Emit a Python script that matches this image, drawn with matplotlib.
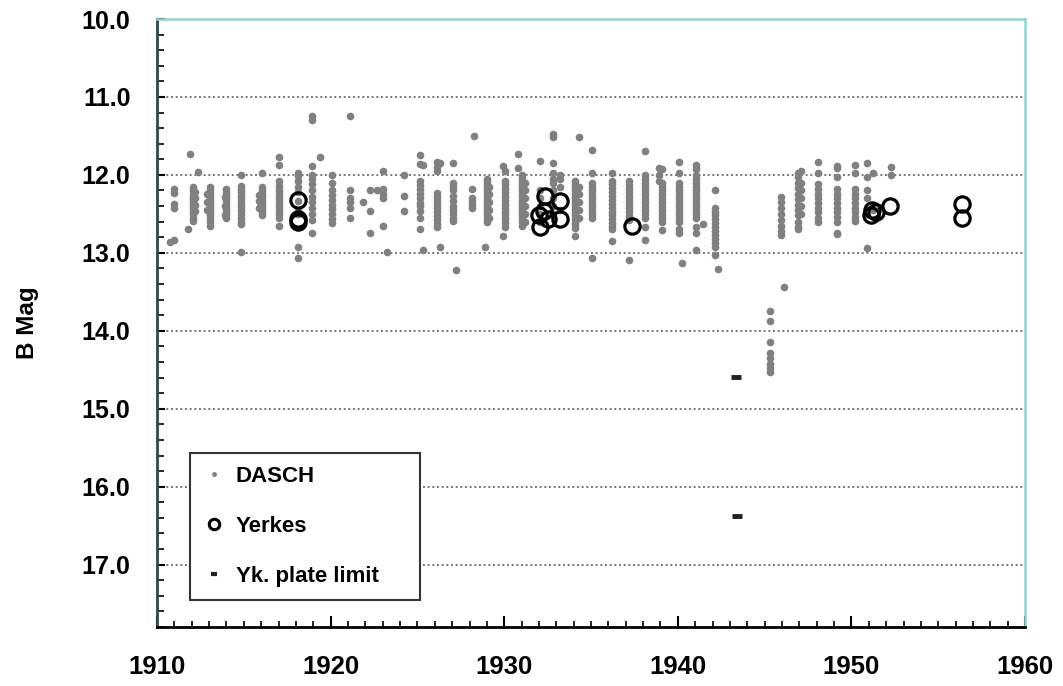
import matplotlib
matplotlib.use("Agg")
import matplotlib.pyplot as plt
import matplotlib.ticker as ticker
from matplotlib.lines import Line2D

# ── Data ─────────────────────────────────────────────────────────
# DASCH: one entry per plate season / sub-column, (year, [B mags])
dasch_cols = [
    (1910.75, [12.86]),
    (1911.0, [12.84, 12.18, 12.23, 12.37, 12.42]),
    (1911.8, [12.70]),
    (1911.9, [11.73]),
    (1912.05, [12.16, 12.20, 12.24, 12.28, 12.31, 12.34, 12.37, 12.40, 12.43, 12.47, 12.50, 12.55, 12.59]),
    (1912.2, [12.22, 12.30, 12.38, 12.46]),
    (1912.35, [11.96]),
    (1912.9, [12.25, 12.35, 12.45]),
    (1913.05, [12.16, 12.20, 12.24, 12.28, 12.32, 12.36, 12.40, 12.44, 12.48, 12.52, 12.56, 12.60, 12.65]),
    (1913.9, [12.28, 12.40, 12.52]),
    (1914.0, [12.18, 12.22, 12.26, 12.30, 12.34, 12.38, 12.42, 12.46, 12.50, 12.55]),
    (1914.85, [12.00, 12.14, 12.18, 12.22, 12.27, 12.31, 12.36, 12.40, 12.45, 12.50, 12.55, 12.60, 12.63, 12.99]),
    (1915.9, [12.26, 12.34, 12.42]),
    (1916.05, [11.98, 12.16, 12.20, 12.24, 12.28, 12.32, 12.36, 12.40, 12.44, 12.48, 12.52]),
    (1917.0, [11.77, 11.87, 12.08, 12.14, 12.20, 12.25, 12.30, 12.35, 12.40, 12.45, 12.50, 12.55, 12.65]),
    (1918.1, [11.98, 12.02, 12.08, 12.15, 12.22, 12.33, 12.45, 12.50, 12.92, 13.07]),
    (1918.95, [11.25, 11.30, 11.89, 12.00, 12.05, 12.12, 12.20, 12.28, 12.35, 12.42, 12.50, 12.58, 12.74]),
    (1919.4, [11.77]),
    (1920.1, [12.00, 12.10, 12.20, 12.26, 12.32, 12.38, 12.44, 12.50, 12.56, 12.62]),
    (1921.1, [11.24, 12.20, 12.29, 12.35, 12.42, 12.55]),
    (1921.85, [12.35]),
    (1922.27, [12.20, 12.46, 12.74]),
    (1922.7, [12.20]),
    (1923.02, [11.95, 12.18, 12.25, 12.29, 12.65]),
    (1923.25, [12.99]),
    (1924.2, [12.00, 12.27, 12.46]),
    (1925.15, [11.74, 11.86, 12.08, 12.13, 12.18, 12.25, 12.30, 12.36, 12.40, 12.46, 12.55, 12.69]),
    (1925.32, [11.87, 12.96]),
    (1926.13, [11.84, 11.90, 11.95, 12.23, 12.28, 12.33, 12.38, 12.43, 12.48, 12.53, 12.58, 12.63, 12.67]),
    (1926.3, [11.85, 12.92]),
    (1927.05, [11.85, 12.10, 12.15, 12.20, 12.27, 12.33, 12.40, 12.45, 12.50, 12.55, 12.59]),
    (1927.22, [13.22]),
    (1928.15, [12.18, 12.29, 12.34, 12.38, 12.42]),
    (1928.26, [11.50]),
    (1928.9, [12.92]),
    (1929.0, [12.05, 12.08, 12.12, 12.16, 12.20, 12.24, 12.28, 12.32, 12.36, 12.40, 12.44, 12.48, 12.52, 12.56, 12.60]),
    (1929.15, [12.15, 12.25, 12.35, 12.45, 12.55]),
    (1929.95, [11.88, 12.78]),
    (1930.05, [11.95, 12.08, 12.12, 12.17, 12.22, 12.27, 12.32, 12.37, 12.42, 12.47, 12.52, 12.57, 12.62, 12.67]),
    (1930.8, [11.91, 11.73]),
    (1931.03, [12.00, 12.04, 12.08, 12.12, 12.16, 12.20, 12.24, 12.28, 12.32, 12.36, 12.40, 12.44, 12.48, 12.52, 12.56, 12.60, 12.65]),
    (1931.2, [12.10, 12.20, 12.30, 12.40, 12.50, 12.60]),
    (1932.06, [11.82, 12.20, 12.30, 12.40, 12.50, 12.60]),
    (1932.8, [11.47, 11.52, 11.85, 11.97, 12.05, 12.10, 12.20, 12.30, 12.40, 12.50]),
    (1933.2, [12.00, 12.05, 12.15, 12.45]),
    (1934.08, [12.08, 12.12, 12.16, 12.20, 12.24, 12.28, 12.32, 12.36, 12.40, 12.44, 12.48, 12.52, 12.56, 12.60, 12.64, 12.68, 12.79]),
    (1934.3, [11.51, 12.15, 12.25, 12.35, 12.45, 12.55]),
    (1935.08, [11.68, 11.98, 12.10, 12.15, 12.20, 12.25, 12.30, 12.35, 12.40, 12.45, 12.50, 12.55, 13.07]),
    (1936.2, [11.98, 12.08, 12.12, 12.17, 12.22, 12.27, 12.32, 12.37, 12.42, 12.47, 12.52, 12.57, 12.62, 12.66, 12.69, 12.85]),
    (1937.2, [12.08, 12.13, 12.18, 12.23, 12.28, 12.33, 12.38, 12.43, 12.48, 12.53, 12.58, 13.09]),
    (1938.11, [11.69, 12.00, 12.05, 12.10, 12.15, 12.20, 12.25, 12.30, 12.35, 12.40, 12.45, 12.50, 12.55, 12.67, 12.84]),
    (1938.92, [11.91, 12.00, 12.08]),
    (1939.1, [11.93, 12.10, 12.15, 12.20, 12.25, 12.30, 12.35, 12.40, 12.45, 12.50, 12.55, 12.60, 12.71]),
    (1940.05, [11.84, 11.97, 12.10, 12.15, 12.20, 12.25, 12.30, 12.35, 12.40, 12.45, 12.50, 12.55, 12.60, 12.70, 12.74]),
    (1940.24, [13.13]),
    (1941.05, [11.87, 11.92, 12.00, 12.05, 12.10, 12.15, 12.20, 12.25, 12.30, 12.35, 12.40, 12.45, 12.50, 12.55, 12.67, 12.75, 12.96]),
    (1941.45, [12.63]),
    (1942.15, [12.20, 12.42, 12.47, 12.52, 12.57, 12.62, 12.67, 12.72, 12.77, 12.82, 12.87, 12.92, 13.03]),
    (1942.32, [13.21]),
    (1945.3, [13.75, 13.87, 14.15, 14.28, 14.35, 14.42, 14.48, 14.53]),
    (1946.1, [13.44]),
    (1945.95, [12.28, 12.35, 12.42, 12.50, 12.58, 12.65, 12.72, 12.77]),
    (1946.92, [11.97, 12.03, 12.10, 12.17, 12.24, 12.31, 12.38, 12.45, 12.52, 12.60, 12.67, 12.70]),
    (1947.1, [11.95, 12.10, 12.20, 12.30, 12.40, 12.50]),
    (1948.1, [11.84, 11.97, 12.12, 12.18, 12.24, 12.30, 12.36, 12.42, 12.48, 12.55, 12.60]),
    (1949.17, [11.89, 11.91, 12.03, 12.18, 12.24, 12.30, 12.36, 12.42, 12.48, 12.54, 12.60, 12.74, 12.76]),
    (1950.2, [11.87, 11.97, 12.18, 12.24, 12.30, 12.36, 12.42, 12.48, 12.54, 12.59]),
    (1950.9, [11.85, 12.03, 12.20, 12.30, 12.94]),
    (1951.24, [11.97, 12.45]),
    (1952.3, [11.90, 12.00]),
]

yerkes_years = [1918.1, 1918.1, 1918.15,
                1932.35, 1932.3, 1932.0, 1932.5, 1932.06, 1933.2, 1933.2,
                1937.35,
                1951.2, 1951.1, 1951.4, 1952.2,
                1956.35, 1956.35]
yerkes_mags = [12.32, 12.60, 12.56,
               12.27, 12.46, 12.52, 12.57, 12.67, 12.33, 12.57,
               12.65,
               12.45, 12.52, 12.48, 12.40,
               12.37, 12.55]

limit_years = [1943.35, 1943.4]
limit_mags = [14.59, 16.38]

dasch_years = [yr for yr, mags in dasch_cols for _ in mags]
dasch_mags = [m for _, mags in dasch_cols for m in mags]

# ── Styling ──────────────────────────────────────────────────────
FONT = ["Liberation Sans", "DejaVu Sans"]
DASCH_COLOR = "#808080"
plt.rcParams.update({
    "font.family": FONT,
    "font.weight": "bold",
    "font.size": 18,
})

fig = plt.figure(figsize=(10.63, 6.86), dpi=100)
ax = fig.add_axes([0.1477, 0.086, 0.8166, 0.8863])

ax.plot(dasch_years, dasch_mags, "o", ms=5.5, color=DASCH_COLOR, mec="none", zorder=3)
ax.plot(yerkes_years, yerkes_mags, "o", ms=11, mfc="none", mec="black", mew=2.3, zorder=4)
ax.plot(limit_years, limit_mags, "_", ms=7, mew=3.5, color="#222222", zorder=4)

ax.set_xlim(1910, 1960)
ax.set_ylim(17.8, 10.0)

ax.xaxis.set_major_locator(ticker.MultipleLocator(10))
ax.xaxis.set_minor_locator(ticker.MultipleLocator(1))
ax.yaxis.set_major_locator(ticker.MultipleLocator(1))
ax.yaxis.set_minor_locator(ticker.MultipleLocator(0.2))
ax.yaxis.set_major_formatter(ticker.FormatStrFormatter("%.1f"))

ax.tick_params(axis="x", which="major", direction="in", length=8, width=1.5, pad=20, labelsize=18.5)
ax.tick_params(axis="x", which="minor", direction="in", length=4, width=1.2)
ax.tick_params(axis="y", which="major", direction="in", length=6, width=1.5, pad=19, labelsize=18)
ax.tick_params(axis="y", which="minor", direction="in", length=5, width=1.2)

ax.grid(axis="y", which="major", linestyle=(0, (1, 1.4)), color="#777777", linewidth=1.4)
ax.set_axisbelow(True)

ax.spines["left"].set_color("#2f4a4a")
ax.spines["left"].set_linewidth(2)
ax.spines["bottom"].set_color("black")
ax.spines["bottom"].set_linewidth(2)
ax.spines["top"].set_color("#93d2d2")
ax.spines["top"].set_linewidth(1.8)
ax.spines["right"].set_color("#93d2d2")
ax.spines["right"].set_linewidth(1.8)

ax.set_ylabel("B Mag", fontsize=17.5, fontweight="bold")
ax.yaxis.set_label_coords(-0.136, 0.5)

handles = [
    Line2D([], [], ls="none", marker="o", ms=3.5, color=DASCH_COLOR, mec="none"),
    Line2D([], [], ls="none", marker="o", ms=7.5, mfc="none", mec="black", mew=2.2),
    Line2D([], [], ls="none", marker="_", ms=5, mew=3, color="#222222"),
]
leg = ax.legend(
    handles, ["DASCH", "Yerkes", "Yk. plate limit"],
    loc="lower left", bbox_to_anchor=(0.038, 0.044, 0.265, 0.256), mode="expand",
    borderaxespad=0, fancybox=False, framealpha=1, edgecolor="#333333",
    fontsize=16, handlelength=1.0, handletextpad=0.45, labelspacing=1.3,
    borderpad=0.6,
)
leg.get_frame().set_linewidth(1.5)
for t in leg.get_texts():
    t.set_fontweight("bold")

fig.savefig("out.png", dpi=100)
